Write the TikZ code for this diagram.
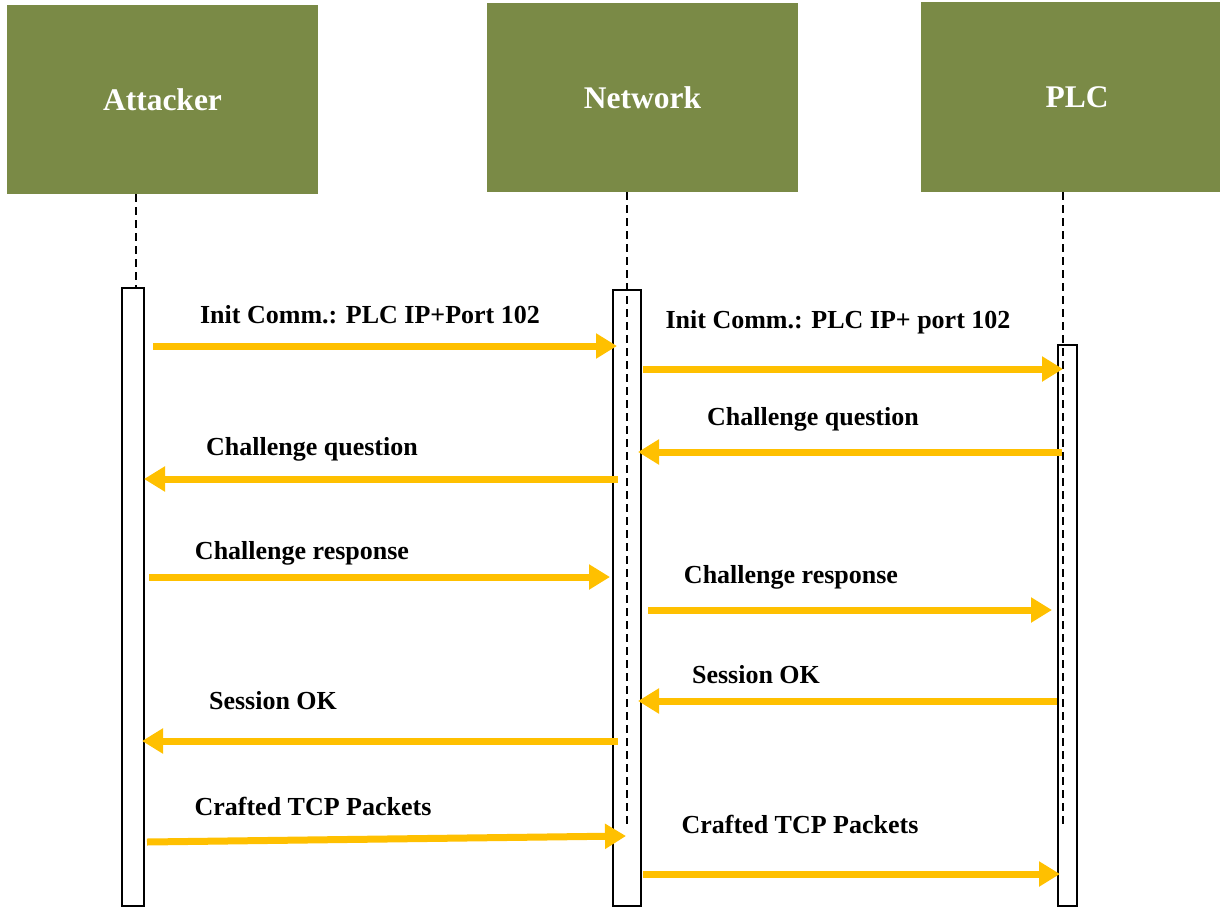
\documentclass[tikz,border=0pt]{standalone}
\usepackage{fontspec}
\setmainfont{Liberation Serif}
\usetikzlibrary{arrows.meta}
\definecolor{olivehead}{RGB}{122,138,70}
\definecolor{msgyellow}{RGB}{255,192,0}

\begin{document}
\begin{tikzpicture}[x=1pt,y=-1pt,
  actor/.style={fill=olivehead, text=white, inner sep=0pt,
    font=\fontsize{31.5}{36}\selectfont\bfseries},
  actbar/.style={draw=black, fill=white, line width=1.6pt, inner sep=0pt},
  lifeline/.style={draw=black, line width=1.5pt, dash pattern=on 8pt off 5pt},
  msg/.style={draw=msgyellow, line width=7pt,
    -{Triangle[length=21pt,width=24pt]}},
  msglabel/.style={font=\fontsize{26}{30}\selectfont\bfseries, inner sep=0pt},
]
\useasboundingbox (0,0) rectangle (1220,907);

% participant headers
\node[actor, minimum width=311pt, minimum height=189pt] (attacker) at (162.5,99.5) {Attacker};
\node[actor, minimum width=311pt, minimum height=189pt] (network) at (642.5,97.5) {Network};
\node[actor, minimum width=299pt, minimum height=190pt] (plc) at (1070.5,97) {};
\node[font=\fontsize{31.5}{36}\selectfont\bfseries, text=white] (plctext) at (1077,97) {PLC};

% activation bars
\node[actbar, minimum width=22pt, minimum height=618pt] (barA) at (133,597) {};
\node[actbar, minimum width=28pt, minimum height=616pt] (barN) at (627,598) {};
\node[actbar, minimum width=19pt, minimum height=561pt] (barP) at (1067.5,625.5) {};

% lifelines
\coordinate (endN) at (627,825);
\coordinate (endP) at (1063,825);
\draw[lifeline] (attacker.south -| 136,0) -- (barA.north -| 136,0);
\draw[lifeline] (network.south -| endN) -- (endN);
\draw[lifeline] (plc.south -| endP) -- (endP);

% message endpoints
\coordinate (m1s) at (153,346);  \coordinate (m1e) at (617,346);
\coordinate (m2s) at (643,369);  \coordinate (m2e) at (1063,369);
\coordinate (m3s) at (1062,452); \coordinate (m3e) at (638,452);
\coordinate (m4s) at (618,479);  \coordinate (m4e) at (144,479);
\coordinate (m5s) at (149,577);  \coordinate (m5e) at (610,577);
\coordinate (m6s) at (648,610);  \coordinate (m6e) at (1052,610);
\coordinate (m7s) at (1057,701); \coordinate (m7e) at (638,701);
\coordinate (m8s) at (618,741);  \coordinate (m8e) at (142,741);
\coordinate (m9s) at (147,842);  \coordinate (m9e) at (626,836);
\coordinate (m10s) at (643,874); \coordinate (m10e) at (1060,874);

\draw[msg] (m1s) -- (m1e);
\draw[msg] (m2s) -- (m2e);
\draw[msg] (m3s) -- (m3e);
\draw[msg] (m4s) -- (m4e);
\draw[msg] (m5s) -- (m5e);
\draw[msg] (m6s) -- (m6e);
\draw[msg] (m7s) -- (m7e);
\draw[msg] (m8s) -- (m8e);
\draw[msg] (m9s) -- (m9e);
\draw[msg] (m10s) -- (m10e);

% message labels
\node[msglabel] (l1) at (370,315) {Init Comm.: PLC IP+Port 102};
\node[msglabel] (l2) at (838,322) {Init Comm.: PLC IP+ port 102};
\node[msglabel] (l3) at (813,419) {Challenge question};
\node[msglabel] (l4) at (312,449) {Challenge question};
\node[msglabel] (l5) at (302,553) {Challenge response};
\node[msglabel] (l6) at (791,577) {Challenge response};
\node[msglabel] (l7) at (756,675) {Session OK};
\node[msglabel] (l8) at (273,701) {Session OK};
\node[msglabel] (l9) at (313,806) {Crafted TCP Packets};
\node[msglabel] (l10) at (800,824) {Crafted TCP Packets};
\end{tikzpicture}
\end{document}
